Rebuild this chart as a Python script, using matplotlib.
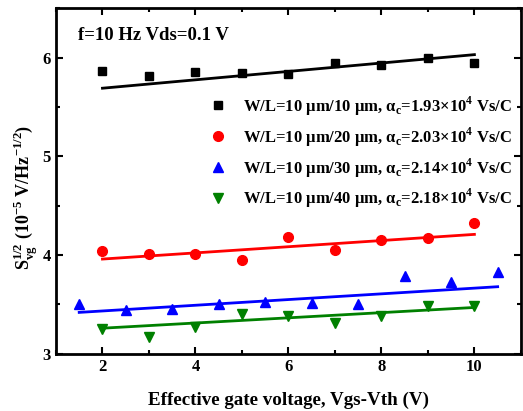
import numpy as np
import matplotlib
matplotlib.use('Agg')
import matplotlib.pyplot as plt

plt.rcParams['font.family'] = ['Liberation Serif', 'DejaVu Serif']
plt.rcParams['font.weight'] = 'bold'

# data
x_int = [2, 3, 4, 5, 6, 7, 8, 9, 10]
x_half = [1.5, 2.5, 3.5, 4.5, 5.5, 6.5, 7.5, 8.5, 9.5, 10.5]
y_10 = [5.86, 5.81, 5.85, 5.84, 5.835, 5.95, 5.92, 6.00, 5.95]
y_20 = [4.04, 4.01, 4.01, 3.95, 4.18, 4.05, 4.15, 4.17, 4.33]
y_30 = [3.51, 3.44, 3.45, 3.50, 3.53, 3.52, 3.51, 3.79, 3.73, 3.83]
y_40 = [3.25, 3.17, 3.27, 3.40, 3.38, 3.31, 3.38, 3.48, 3.48]

# linear fits (value at start, value at end of fit range)
fit_10 = [5.69, 6.03]
fit_20 = [3.96, 4.21]
fit_30 = [3.42, 3.68]
fit_40 = [3.26, 3.47]

labels = [
    'W/L=10 μm/10 μm, α$_\\mathregular{c}$=1.93×10$^\\mathregular{4}$ Vs/C',
    'W/L=10 μm/20 μm, α$_\\mathregular{c}$=2.03×10$^\\mathregular{4}$ Vs/C',
    'W/L=10 μm/30 μm, α$_\\mathregular{c}$=2.14×10$^\\mathregular{4}$ Vs/C',
    'W/L=10 μm/40 μm, α$_\\mathregular{c}$=2.18×10$^\\mathregular{4}$ Vs/C',
]

fig = plt.figure(figsize=(5.23, 4.11), dpi=100)
ax = fig.add_axes([0.107, 0.139, 0.889, 0.841])

series = [
    (x_int, y_10, fit_10, 'black', 's', 6),
    (x_int, y_20, fit_20, 'red', 'o', 7),
    (x_half, y_30, fit_30, 'blue', '^', 7),
    (x_int, y_40, fit_40, 'green', 'v', 7),
]
for (xs, ys, fit, c, m, ms), lab in zip(series, labels):
    ax.plot(xs, ys, ls='none', marker=m, color=c, ms=ms, label=lab)
    ax.plot([xs[0], xs[-1]], fit, color=c, lw=2)

ax.set_xlim(1, 11)
ax.set_ylim(3, 6.5)
ax.set_xticks([2, 4, 6, 8, 10])
ax.set_xticks(np.arange(1, 12, 1), minor=True)
ax.set_yticks([3, 4, 5, 6])
ax.set_yticks(np.arange(3, 6.6, 0.5), minor=True)
ax.tick_params(which='both', direction='in', top=True, right=True, width=1.5,
               labelsize=12)
ax.tick_params(which='major', length=5)
ax.tick_params(which='minor', length=3)
for s in ax.spines.values():
    s.set_linewidth(2)

ax.text(0.047, 0.945, 'f=10 Hz Vds=0.1 V', transform=ax.transAxes,
        fontsize=13.5, fontweight='bold', va='top')

ax.legend(loc='upper left', bbox_to_anchor=(0.331, 0.751), frameon=False,
          borderaxespad=0, borderpad=0, handletextpad=1.0, labelspacing=0.46,
          handlelength=1.0, prop={'weight': 'bold', 'size': 12})

ax.set_xlabel('Effective gate voltage, Vgs-Vth (V)', fontsize=13.7,
              fontweight='bold', labelpad=12)
ax.set_ylabel('S$_\\mathregular{vg}^\\mathregular{1/2}$ (10$^\\mathregular{-5}$ V/Hz$^\\mathregular{-1/2}$)',
              fontsize=13, fontweight='bold')
ax.yaxis.set_label_coords(-0.034, 0.454)

fig.savefig('out.png', dpi=100)
